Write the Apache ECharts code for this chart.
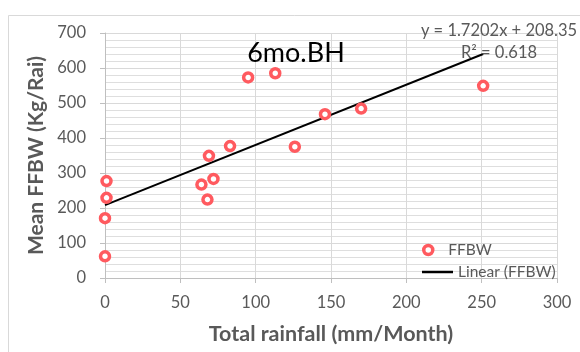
<!DOCTYPE html>
<html>
<head>
<meta charset="utf-8">
<script src="https://cdn.jsdelivr.net/npm/echarts@6/dist/echarts.min.js"></script>
<style>
  html, body { margin: 0; padding: 0; background: #fff; }
  #chart { width: 580px; height: 352px; }
</style>
</head>
<body>
<div id="chart"></div>
<script>
// Monthly rainfall vs. mean fresh fruit bunch weight (6 months before harvest)
const rainfall = [0, 0, 1, 1, 64, 68, 72, 69, 83, 95, 113, 126, 146, 170, 251];
const ffbw = [62, 171, 229, 277, 267, 224, 283, 349, 377, 573, 585, 375, 468, 484, 549];

// Linear trendline parameters
const slope = 1.7202;
const intercept = 208.35;
const rSquared = 0.618;

const xTicks = [0, 50, 100, 150, 200, 250, 300];
const yTicks = [0, 100, 200, 300, 400, 500, 600, 700];

const FONT = 'Lato, "Open Sans", sans-serif';
const GREY = '#595959';
const RED = '#ff5a5f';

const points = rainfall.map((x, i) => [x, ffbw[i]]);
const xMin = Math.min(...rainfall);
const xMax = Math.max(...rainfall);
const trend = [xMin, xMax].map(x => [x, slope * x + intercept]);

const legendText = { fontFamily: FONT, fontSize: 15.5, color: GREY, lineHeight: 16 };

const chart = echarts.init(document.getElementById('chart'), null, { renderer: 'canvas' });

chart.setOption({
  animation: false,
  backgroundColor: '#fff',
  textStyle: { fontFamily: FONT },
  title: {
    text: '6mo.BH',
    left: 291,
    top: 35,
    textAlign: 'center',
    textStyle: { fontFamily: FONT, fontSize: 27, fontWeight: 'normal', color: '#000' }
  },
  grid: { left: 105, right: 23, top: 33, bottom: 74 },
  legend: [
    {
      left: 417,
      top: 237,
      itemWidth: 30,
      itemHeight: 9,
      textStyle: legendText,
      data: [{
        name: 'FFBW',
        icon: 'circle',
        itemStyle: { color: '#fff', borderColor: RED, borderWidth: 3.5 }
      }]
    },
    {
      left: 417,
      top: 259,
      itemWidth: 31,
      itemHeight: 2.5,
      textStyle: legendText,
      data: [{
        name: 'Linear (FFBW)',
        icon: 'rect',
        itemStyle: { color: '#000', borderWidth: 0 }
      }]
    }
  ],
  xAxis: {
    type: 'value',
    min: xTicks[0],
    max: xTicks[xTicks.length - 1],
    interval: xTicks[1] - xTicks[0],
    name: 'Total rainfall (mm/Month)',
    nameLocation: 'middle',
    nameGap: 45,
    nameTextStyle: { fontFamily: FONT, fontSize: 21.5, fontWeight: 'bold', color: GREY },
    axisLine: { show: true, onZero: false, lineStyle: { color: '#bfbfbf', width: 1 } },
    axisTick: { show: true, length: 5, lineStyle: { color: '#bfbfbf' } },
    axisLabel: { margin: 16, fontFamily: FONT, fontSize: 16.5, color: GREY },
    splitLine: { show: true, lineStyle: { color: '#d9d9d9', width: 1 } }
  },
  yAxis: {
    type: 'value',
    min: yTicks[0],
    max: yTicks[yTicks.length - 1],
    interval: yTicks[1] - yTicks[0],
    name: 'Mean FFBW (Kg/Rai)',
    nameLocation: 'middle',
    nameGap: 54,
    nameTextStyle: { fontFamily: FONT, fontSize: 21, fontWeight: 'bold', color: GREY },
    axisLine: { show: true, onZero: false, lineStyle: { color: '#bfbfbf', width: 1 } },
    axisTick: { show: true, length: 5, lineStyle: { color: '#bfbfbf' } },
    axisLabel: { margin: 19, fontFamily: FONT, fontSize: 16.5, color: GREY },
    splitLine: { show: true, lineStyle: { color: '#d9d9d9', width: 1 } },
    minorTick: { show: false, splitNumber: 5 },
    minorSplitLine: { show: true, lineStyle: { color: '#dedede', width: 1 } }
  },
  graphic: [
    {
      type: 'rect',
      shape: { x: 8.5, y: 15.5, width: 600, height: 400 },
      style: { fill: 'none', stroke: '#d9d9d9', lineWidth: 1 },
      silent: true,
      z: -10
    },
    {
      type: 'text',
      x: 499,
      y: 31,
      style: {
        text: 'y = ' + slope.toFixed(4) + 'x + ' + intercept.toFixed(2),
        fontFamily: FONT, fontSize: 16.5, fill: GREY,
        align: 'center', verticalAlign: 'middle'
      },
      z: 10
    },
    {
      type: 'text',
      x: 499,
      y: 53,
      style: {
        text: 'R² = ' + rSquared.toFixed(3),
        fontFamily: FONT, fontSize: 16.5, fill: GREY,
        align: 'center', verticalAlign: 'middle'
      },
      z: 10
    }
  ],
  series: [
    {
      name: 'Linear (FFBW)',
      type: 'line',
      data: trend,
      symbol: 'none',
      lineStyle: { color: '#000', width: 2 },
      itemStyle: { color: '#000' },
      z: 2
    },
    {
      name: 'FFBW',
      type: 'scatter',
      data: points,
      symbol: 'circle',
      symbolSize: 9,
      itemStyle: { color: '#fff', borderColor: RED, borderWidth: 3.5, opacity: 1 },
      z: 3
    }
  ]
});
</script>
</body>
</html>
